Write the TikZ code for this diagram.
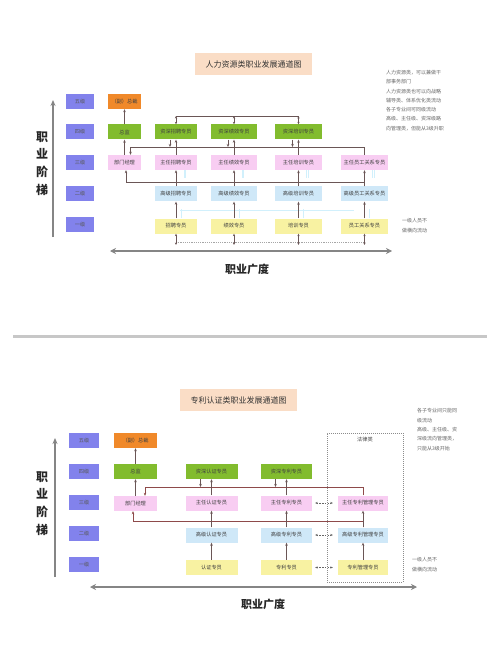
\documentclass[tikz,border=0pt]{standalone}
\usepackage{fontspec}
\newfontfamily\cjk{Noto Sans CJK SC}
\usetikzlibrary{arrows.meta}
\definecolor{lvl}{HTML}{8282EC}
\definecolor{org}{HTML}{F0892A}
\definecolor{grn}{HTML}{82BC2E}
\definecolor{pnk}{HTML}{F8CDF2}
\definecolor{lbl}{HTML}{CFE8F8}
\definecolor{ylw}{HTML}{F8F2A2}
\definecolor{peach}{HTML}{FADDC6}
\definecolor{ln1}{HTML}{6A5656}
\definecolor{ln2}{HTML}{8E4A4A}
\definecolor{axg}{HTML}{858585}
\begin{document}
\begin{tikzpicture}[x=1pt,y=-1pt,
  every node/.style={font=\cjk\fontsize{5.2}{6}\selectfont, text=black!75, inner sep=0pt},
  lvbox/.style={fill=lvl, minimum width=28pt, minimum height=15pt, text=black!65},
  bx/.style={minimum height=15pt},
  ob/.style={bx, fill=org},
  gb/.style={bx, fill=grn},
  pb/.style={bx, fill=pnk},
  bb/.style={bx, fill=lbl},
  yb/.style={bx, fill=ylw},
  ttl/.style={fill=peach, minimum width=117pt, minimum height=22pt, font=\cjk\fontsize{8}{9}\selectfont, text=black!80},
  cn/.style={draw=ln1, line width=0.8pt},
  cnr/.style={draw=ln2, line width=0.9pt},
  tip/.style={-{Stealth[length=3pt,width=2.5pt]}},
  tips/.style={{Stealth[length=2.5pt,width=2.2pt]}-{Stealth[length=2.5pt,width=2.2pt]}},
  faint/.style={draw=cyan!18, line width=0.6pt},
  dl/.style={draw=black!35, line width=0.5pt, dashed, dash pattern=on 1.2pt off 1pt},
  ax/.style={draw=axg, line width=2.2pt, {Stealth[length=6pt,width=6pt]}-{Stealth[length=6pt,width=6pt]}},
  axv/.style={draw=axg, line width=1.6pt, -{Stealth[length=6pt,width=5pt]}},
  big/.style={font=\cjk\fontsize{12}{17.7}\selectfont\bfseries, text=black!85, align=center},
  hbig/.style={font=\cjk\fontsize{11}{12}\selectfont\bfseries, text=black!85},
  note/.style={font=\cjk\fontsize{5}{9.3}\selectfont, text=black!60, align=left, anchor=north west}
]
\useasboundingbox[fill=white] (0,0) rectangle (500,652);

% ================= TOP DIAGRAM =================
\node[ttl] (T1) at (253.5,64) {人力资源类职业发展通道图};

\node[lvbox] (L15) at (80,101.5) {五级};
\node[lvbox] (L14) at (80,132) {四级};
\node[lvbox] (L13) at (80,163) {三级};
\node[lvbox] (L12) at (80,193.5) {二级};
\node[lvbox] (L11) at (80,224.5) {一级};

\node[big] (V1) at (42,163.5) {职\\业\\阶\\梯};
\node[hbig] (H1) at (247,269) {职业广度};

\coordinate (av1a) at (53,237);
\coordinate (av1b) at (53,100);
\draw[axv] (av1a) -- (av1b);
\coordinate (ah1a) at (110,251);
\coordinate (ah1b) at (392,251);
\draw[ax] (ah1a) -- (ah1b);

\node[ob, minimum width=33pt] (A0) at (124.5,101.5) {（副）总裁};
\node[gb, minimum width=33pt] (A1) at (124.5,132) {总监};
\node[pb, minimum width=33pt] (A2) at (124.5,162.5) {部门经理};

\node[gb, minimum width=42pt] (B4) at (176,132) {资深招聘专员};
\node[pb, minimum width=42pt] (B3) at (176,162.5) {主任招聘专员};
\node[bb, minimum width=42pt] (B2) at (176,194) {高级招聘专员};
\node[yb, minimum width=42pt] (B1) at (176,226) {招聘专员};

\node[gb, minimum width=46pt] (C4) at (234,132) {资深绩效专员};
\node[pb, minimum width=46pt] (C3) at (234,162.5) {主任绩效专员};
\node[bb, minimum width=46pt] (C2) at (234,194) {高级绩效专员};
\node[yb, minimum width=46pt] (C1) at (234,226) {绩效专员};

\node[gb, minimum width=47pt] (D4) at (298.5,132) {资深培训专员};
\node[pb, minimum width=47pt] (D3) at (298.5,162.5) {主任培训专员};
\node[bb, minimum width=47pt] (D2) at (298.5,194) {高级培训专员};
\node[yb, minimum width=47pt] (D1) at (298.5,226) {培训专员};

\node[pb, minimum width=47pt] (E3) at (364.5,162.5) {主任员工关系专员};
\node[bb, minimum width=47pt] (E2) at (364.5,194) {高级员工关系专员};
\node[yb, minimum width=47pt] (E1) at (364.5,226) {员工关系专员};

\node[note] (N1) at (386,70) {人力资源类，可以兼做干\\部事务部门\\人力资源类也可以向战略\\辅导类、体系优化类流动\\各子专业间可同级流动\\高级、主任级、资深级路\\向管理类，但能从3级升职};
\node[note] (N2) at (402,218.5) {一级人员不\\做横向流动};

\coordinate (ya) at (0,116);
\coordinate (yb) at (0,147);
\coordinate (yc) at (0,182);
\coordinate (yd) at (0,242);
\path ([xshift=6pt]A2.north) coordinate (a2t);
\path ([xshift=1.5pt]A2.south) coordinate (a2b);

% faint connections
\foreach \n in {B3,C3,D3,E3} {
  \path ([xshift=8pt]\n.south) coordinate (fx);
  \draw[faint] (fx) -- ++(0,8);
  \draw[faint] ([xshift=1.5pt]fx) -- ++(0,8);
}
\coordinate (fl1) at (180,210);
\coordinate (fl2) at (354,210);
\draw[faint] (fl1) -- (fl2);
\foreach \n in {B1,C1,D1,E1} {
  \path ([xshift=5pt]\n.north) coordinate (fy);
  \draw[faint] (fy) -- ++(0,-9);
}

% top line linking senior specialists
\draw[cn] (B4.north |- ya) -- (D4.north |- ya);
\foreach \n in {B4,C4,D4} \draw[cn,tips] (\n.north |- ya) -- (\n.north);

% line between level 4 and 3
\draw[cn,tip] (E3.north) -- (E3.north |- yb) -- (a2t |- yb) -- (a2t);
\foreach \n in {B4,C4,D4} {
  \path ([xshift=-6pt]\n.south) coordinate (gs);
  \draw[cn,tip] (gs) -- (gs |- yb);
}
% line between level 3 and 2
\draw[cn,tip] (E2.north) -- (E2.north |- yc) -- (a2b |- yc) -- (a2b);

% vertical promotions
\draw[cn,tip] (A1) -- (A0);
\draw[cn,tip] (A2) -- (A1);
\foreach \c in {B,C,D} \draw[cn,tip] (\c3) -- (\c4);
\foreach \c in {B,C,D,E} {
  \draw[cn,tip] (\c2) -- (\c3);
  \draw[cn,tip] (\c1) -- (\c2);
}
% bottom dashed line
\draw[dl] (B1.south |- yd) -- (E1.south |- yd);
\foreach \n in {B1,C1,D1,E1} \draw[cn,tips] (\n.south) -- ([yshift=-3pt]\n.south |- yd);

% separator
\coordinate (s1) at (13,336);
\coordinate (s2) at (487,336);
\draw[line width=3pt, black!22] (s1) -- (s2);

% ================= BOTTOM DIAGRAM =================
\node[ttl] (T2) at (238.5,400) {专利认证类职业发展通道图};

\node[lvbox, minimum width=30pt] (L25) at (84,440.5) {五级};
\node[lvbox, minimum width=30pt] (L24) at (84,471.5) {四级};
\node[lvbox, minimum width=30pt] (L23) at (84,502.5) {三级};
\node[lvbox, minimum width=30pt] (L22) at (84,533.5) {二级};
\node[lvbox, minimum width=30pt] (L21) at (84,564.5) {一级};

\node[big] (V2) at (42,503.5) {职\\业\\阶\\梯};
\node[hbig] (H2) at (263,604) {职业广度};

\coordinate (av2a) at (55,577);
\coordinate (av2b) at (55,438);
\draw[axv] (av2a) -- (av2b);
\coordinate (ah2a) at (90,587);
\coordinate (ah2b) at (417,587);
\draw[ax] (ah2a) -- (ah2b);

\node[draw=black!45, dashed, dash pattern=on 1pt off 1pt, line width=0.5pt, minimum width=76pt, minimum height=149pt] (LAW) at (365,507.5) {};
\node (LAWt) at (365,440) {法律类};

\node[ob, minimum width=43pt] (P0) at (135.5,440.5) {（副）总裁};
\node[gb, minimum width=43pt] (P1) at (135.5,471.5) {总监};
\node[pb, minimum width=43pt] (P2) at (135.5,503.5) {部门经理};

\node[gb, minimum width=52pt] (Q4) at (211.5,471.5) {资深认证专员};
\node[pb, minimum width=52pt] (Q3) at (211.5,503) {主任认证专员};
\node[bb, minimum width=52pt] (Q2) at (211.5,535) {高级认证专员};
\node[yb, minimum width=52pt] (Q1) at (211.5,567.5) {认证专员};

\node[gb, minimum width=51pt] (R4) at (286.5,471.5) {资深专利专员};
\node[pb, minimum width=51pt] (R3) at (286.5,503) {主任专利专员};
\node[bb, minimum width=51pt] (R2) at (286.5,535) {高级专利专员};
\node[yb, minimum width=51pt] (R1) at (286.5,567.5) {专利专员};

\node[pb, minimum width=50pt] (S3) at (363,503) {主任专利管理专员};
\node[bb, minimum width=50pt] (S2) at (363,535) {高级专利管理专员};
\node[yb, minimum width=50pt] (S1) at (363,567.5) {专利管理专员};

\node[note] (N3) at (417,408.5) {各子专业间只能同\\级流动\\高级、主任级、资\\深级流向管理类，\\只能从3级开始};
\node[note] (N4) at (412,557.5) {一级人员不\\做横向流动};

\coordinate (yr1) at (0,487);
\coordinate (yr2) at (0,521);
\path ([xshift=9.5pt]P2.north) coordinate (p2t);
\path ([xshift=-2.5pt]P2.south) coordinate (p2b);

\draw[cnr,tip] (S3.north) -- (S3.north |- yr1) -- (p2t |- yr1) -- (p2t);
\foreach \n in {Q4,R4} {
  \path ([xshift=-11pt]\n.south) coordinate (gs2);
  \draw[cn,tip] (gs2) -- (gs2 |- yr1);
}
\draw[cnr,tip] (S2.north) -- (S2.north |- yr2) -- (p2b |- yr2) -- (p2b);

\draw[cn,tip] (P1) -- (P0);
\draw[cn,tip] (P2) -- (P1);
\foreach \c in {Q,R} {
  \draw[cn,tip] (\c3) -- (\c4);
  \draw[cn,tip] (\c2) -- (\c3);
  \draw[cn,tip] (\c1) -- (\c2);
}
\draw[cn,tip] (S2) -- (S3);
\draw[cn,tip] (S1) -- (S2);

\foreach \a/\b in {R3/S3,R2/S2,R1/S1}
  \draw[draw=black!60, line width=0.5pt, dashed, dash pattern=on 1.5pt off 1.2pt, tips] ([xshift=3pt]\a.east) -- ([xshift=-5pt]\b.west);

\end{tikzpicture}
\end{document}
